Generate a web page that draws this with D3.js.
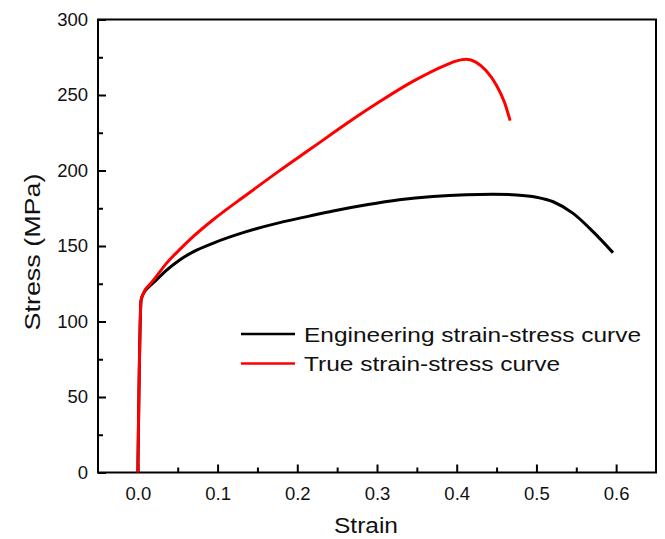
<!DOCTYPE html>
<html>
<head>
<meta charset="utf-8">
<script src="https://cdn.jsdelivr.net/npm/d3@7"></script>
<style>
  body { margin: 0; background: #fff; }
  svg { font-family: "Liberation Sans", Arial, sans-serif; }
</style>
</head>
<body>
<svg id="chart" width="665" height="539"></svg>
<script>
// stress-strain curves, values

var engStrain = [0, 0.004, 0.008, 0.015, 0.023, 0.035, 0.052, 0.070, 0.094, 0.136, 0.178, 0.215, 0.245, 0.287, 0.328, 0.370, 0.412, 0.445, 0.475, 0.500, 0.521, 0.546, 0.571, 0.596];
var engStress = [0, 114, 119.5, 123.5, 127.4, 133.5, 140.6, 146.3, 151.8, 159.5, 165.5, 169.8, 173.2, 177.3, 180.6, 182.8, 184.0, 184.3, 183.8, 182.3, 179.3, 171.6, 159.5, 145.6];

var trueStrain = [0, 0.004, 0.008, 0.015, 0.023, 0.035, 0.052, 0.070, 0.094, 0.136, 0.177, 0.220, 0.261, 0.303, 0.345, 0.387, 0.400, 0.412, 0.424, 0.437, 0.450, 0.460, 0.467];
var trueStress = [0, 114, 119.8, 124.5, 129.7, 138.0, 147.4, 156.5, 167.2, 183.8, 199.6, 215.5, 230.8, 245.5, 259.0, 270.0, 272.6, 273.6, 271.8, 266.0, 256.3, 245.0, 233.0];

var xTicks = [0, 0.1, 0.2, 0.3, 0.4, 0.5, 0.6];
var yTicks = [0, 50, 100, 150, 200, 250, 300];

var seriesNames = ['Engineering strain-stress curve', 'True strain-stress curve'];
var seriesColors = ['#000000', '#ff0000'];

var svg = d3.select('#chart');
var margin = {left: 98, top: 19.5, right: 9, bottom: 66.5};
var width = 665 - margin.left - margin.right,
    height = 539 - margin.top - margin.bottom;

var g = svg.append('g').attr('transform', 'translate(' + margin.left + ',' + margin.top + ')');

var x = d3.scaleLinear().domain([-0.05, 0.65]).range([0, width]);
var y = d3.scaleLinear().domain([0, 300]).range([height, 0]);

// minor ticks first
g.append('g')
  .attr('transform', 'translate(0,' + height + ')')
  .call(d3.axisBottom(x).tickValues(d3.range(0.05, 0.6, 0.1)).tickSize(-5).tickFormat(''))
  .call(function(a) { a.select('.domain').remove(); a.selectAll('line').attr('stroke-width', 2); });
g.append('g')
  .call(d3.axisLeft(y).tickValues(d3.range(25, 300, 50)).tickSize(-5).tickFormat(''))
  .call(function(a) { a.select('.domain').remove(); a.selectAll('line').attr('stroke-width', 2); });

// major ticks
var xAxis = g.append('g')
  .attr('transform', 'translate(0,' + height + ')')
  .call(d3.axisBottom(x).tickValues(xTicks).tickSize(-8).tickPadding(14).tickFormat(d3.format('.1f')));
var yAxis = g.append('g')
  .call(d3.axisLeft(y).tickValues(yTicks).tickSize(-8).tickPadding(10).tickFormat(d3.format('d')));

[xAxis, yAxis].forEach(function(a) {
  a.select('.domain').remove();
  a.selectAll('line').attr('stroke-width', 2);
  a.selectAll('text').attr('font-size', '18.5px').attr('fill', '#111')
    .attr('font-family', '"Liberation Sans", Arial, sans-serif');
});

// frame
g.append('rect')
  .attr('width', width).attr('height', height)
  .attr('fill', 'none').attr('stroke', '#000').attr('stroke-width', 2);

// curves
var line = d3.line()
  .x(function(d) { return x(d[0]); })
  .y(function(d) { return y(d[1]); })
  .curve(d3.curveMonotoneX);

var series = [d3.zip(engStrain, engStress), d3.zip(trueStrain, trueStress)];

series.forEach(function(s, i) {
  g.append('path')
    .datum(s)
    .attr('d', line)
    .attr('fill', 'none')
    .attr('stroke', seriesColors[i])
    .attr('stroke-width', 3)
    .attr('stroke-linejoin', 'round');
});

// legend
var legend = svg.append('g');
seriesNames.forEach(function(name, i) {
  var ly = 334 + i * 29.5;
  legend.append('line')
    .attr('x1', 241).attr('x2', 295).attr('y1', ly).attr('y2', ly)
    .attr('stroke', seriesColors[i]).attr('stroke-width', 2.5);
  legend.append('text')
    .attr('x', 304).attr('y', ly + 7.5)
    .attr('font-size', '21px').attr('fill', '#111')
    .attr('textLength', i == 0 ? 337 : 256)
    .attr('lengthAdjust', 'spacingAndGlyphs')
    .text(name);
});

// axis titles
svg.append('text')
  .attr('x', 366).attr('y', 533)
  .attr('text-anchor', 'middle')
  .attr('font-size', '22px').attr('fill', '#111')
  .attr('textLength', 64).attr('lengthAdjust', 'spacingAndGlyphs')
  .text('Strain');

svg.append('text')
  .attr('transform', 'translate(40,252) rotate(-90)')
  .attr('text-anchor', 'middle')
  .attr('font-size', '22px').attr('fill', '#111')
  .attr('textLength', 157).attr('lengthAdjust', 'spacingAndGlyphs')
  .text('Stress (MPa)');
</script>
</body>
</html>
